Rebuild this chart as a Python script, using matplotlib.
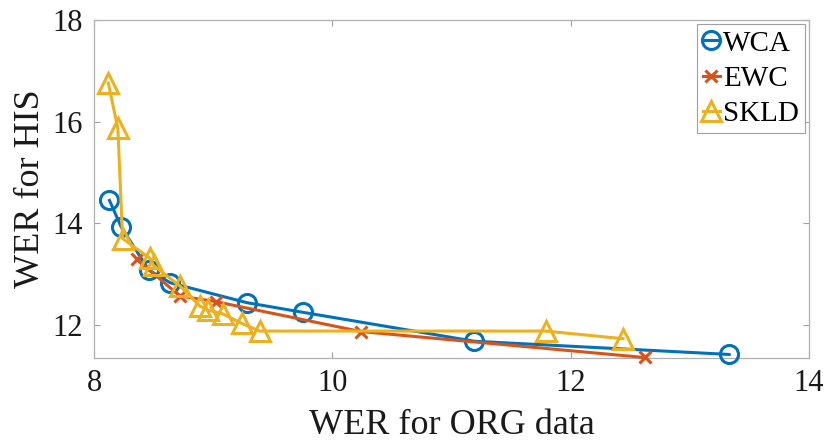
import matplotlib
matplotlib.use("Agg")
import matplotlib.pyplot as plt

plt.rcParams['font.family'] = ['Liberation Serif', 'DejaVu Serif']

# Data (WER for ORG data, WER for HIS)
wca_x = [8.13, 8.23, 8.46, 8.64, 9.28, 9.75, 11.19, 13.33]
wca_y = [14.45, 13.92, 13.08, 12.83, 12.44, 12.25, 11.68, 11.42]

ewc_x = [8.36, 8.72, 9.02, 10.24, 12.62]
ewc_y = [13.29, 12.57, 12.46, 11.87, 11.36]

skld_x = [8.12, 8.20, 8.24, 8.47, 8.50, 8.72, 8.89, 8.96, 9.08, 9.24, 9.39, 11.79, 12.44]
skld_y = [16.76, 15.87, 13.70, 13.31, 13.17, 12.77, 12.37, 12.29, 12.22, 12.03, 11.88, 11.88, 11.73]

x_ticks = [8, 10, 12, 14]
y_ticks = [12, 14, 16, 18]
labels = ['WCA', 'EWC', 'SKLD']

c_blue = '#0072BD'
c_red = '#D95319'
c_yel = '#EDB120'

fig = plt.figure(figsize=(8.30, 4.48), dpi=100)
ax = fig.add_axes([94/830, 1-358/448, (809-94)/830, (358-20)/448])

ax.plot(wca_x, wca_y, color=c_blue, lw=2.2, marker='o', ms=13, mfc='none', mew=2.2,
        label=labels[0], clip_on=False, zorder=3)
ax.plot(ewc_x, ewc_y, color=c_red, lw=2.2, marker='x', ms=9, mew=2.2,
        label=labels[1], clip_on=False, zorder=3)
ax.plot(skld_x, skld_y, color=c_yel, lw=2.2, marker='^', ms=15, mfc='none', mew=2.2,
        label=labels[2], clip_on=False, zorder=3)

ax.set_xlim(8, 14)
ax.set_ylim(11.35, 18)
ax.set_xticks(x_ticks)
ax.set_yticks(y_ticks)
ax.tick_params(direction='in', length=4, width=0.8, color='#a0a0a0',
               top=True, right=True, labelsize=22, pad=8, labelcolor='#1a1a1a')
for s in ax.spines.values():
    s.set_color('#b0b0b0')
    s.set_linewidth(0.9)

ax.set_xlabel('WER for ORG data', fontsize=26, color='#1a1a1a', labelpad=8)
ax.set_ylabel('WER for HIS', fontsize=26, color='#1a1a1a', labelpad=4)

leg = ax.legend(loc='upper right', fontsize=21, handlelength=0.6, handletextpad=0.1,
                borderpad=0.2, labelspacing=0.3, borderaxespad=0.15,
                fancybox=False, framealpha=1, edgecolor='#a0a0a0')
leg.get_frame().set_linewidth(0.8)
leg.set_zorder(5)
for t in leg.get_texts():
    t.set_color('black')

fig.savefig('out.png', dpi=100)
